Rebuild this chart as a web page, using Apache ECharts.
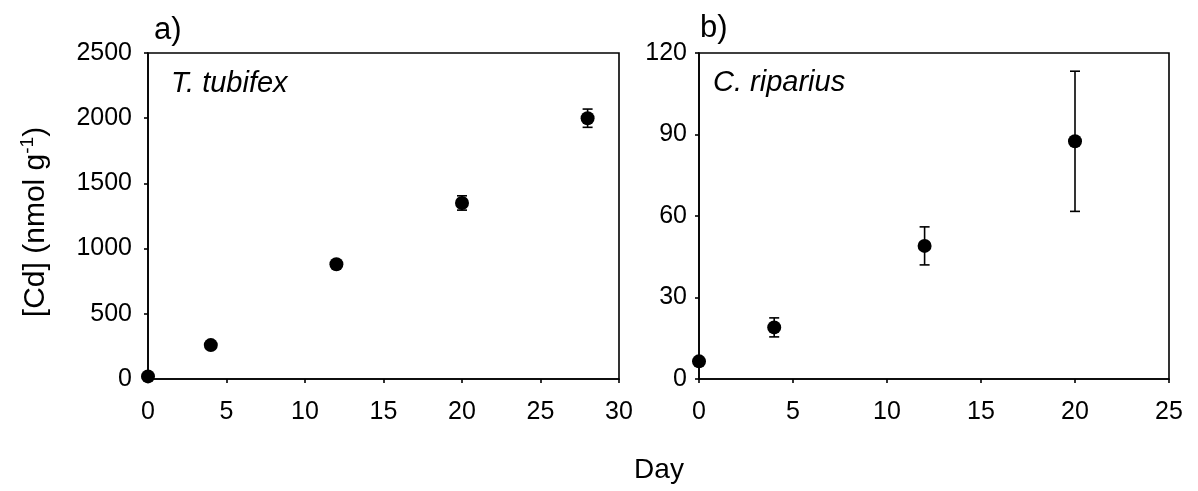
<!DOCTYPE html>
<html>
<head>
<meta charset="utf-8">
<script src="https://cdn.jsdelivr.net/npm/echarts@6/dist/echarts.min.js"></script>
<style>html,body{margin:0;padding:0;background:#fff}#c{width:1198px;height:491px}</style>
</head>
<body>
<div id="c"></div>
<script>
// Panel a) T. tubifex
const daysA = [0, 4, 12, 20, 28];
const cdA = [20, 260, 880, 1350, 2000];
const errA = [15, 15, 20, 55, 70];
// Panel b) C. riparius
const daysB = [0, 4, 12, 20];
const cdB = [6.5, 19, 49, 87.5];
const errB = [1, 3.5, 7, 25.8];
const xTicksA = [0, 5, 10, 15, 20, 25, 30];
const yTicksA = [0, 500, 1000, 1500, 2000, 2500];
const xTicksB = [0, 5, 10, 15, 20, 25];
const yTicksB = [0, 30, 60, 90, 120];

const FONT = 'Liberation Sans, Arial, sans-serif';
const chart = echarts.init(document.getElementById('c'));

function errSeries(xIdx, days, vals, errs) {
  return {
    type: 'custom', xAxisIndex: xIdx, yAxisIndex: xIdx, z: 2, silent: true,
    data: days.map((d, i) => [d, vals[i] - errs[i], vals[i] + errs[i]]),
    renderItem: function (params, api) {
      const lo = api.coord([api.value(0), api.value(1)]);
      const hi = api.coord([api.value(0), api.value(2)]);
      const w = 5;
      const st = { stroke: '#000', lineWidth: 1.6 };
      return { type: 'group', children: [
        { type: 'line', shape: { x1: lo[0], y1: lo[1], x2: hi[0], y2: hi[1] }, style: st },
        { type: 'line', shape: { x1: lo[0] - w, y1: lo[1], x2: lo[0] + w, y2: lo[1] }, style: st },
        { type: 'line', shape: { x1: hi[0] - w, y1: hi[1], x2: hi[0] + w, y2: hi[1] }, style: st }
      ]};
    }
  };
}

function xAxis(idx, ticks) {
  return {
    type: 'value', gridIndex: idx, min: ticks[0], max: ticks[ticks.length - 1], interval: ticks[1] - ticks[0],
    axisLine: { show: true, onZero: false, lineStyle: { color: '#000', width: 1.6 } },
    axisTick: { show: true, inside: false, length: 4, lineStyle: { color: '#000', width: 1.6 } },
    axisLabel: { color: '#000', fontSize: 25, fontFamily: FONT, margin: 21, formatter: v => String(v) },
    splitLine: { show: false }
  };
}
function yAxis(idx, ticks, margin) {
  return {
    type: 'value', gridIndex: idx, min: ticks[0], max: ticks[ticks.length - 1], interval: ticks[1] - ticks[0],
    axisLine: { show: true, onZero: false, lineStyle: { color: '#000', width: 1.6 } },
    axisTick: { show: true, inside: false, length: 4, lineStyle: { color: '#000', width: 1.6 } },
    axisLabel: { color: '#000', fontSize: 25, fontFamily: FONT, margin: margin, formatter: v => String(v) },
    splitLine: { show: false }
  };
}

chart.setOption({
  animation: false,
  backgroundColor: '#fff',
  grid: [
    { left: 148, top: 53, width: 471, height: 326, show: true, borderColor: '#000', borderWidth: 1.6 },
    { left: 699, top: 53, width: 470, height: 326, show: true, borderColor: '#000', borderWidth: 1.6 }
  ],
  xAxis: [xAxis(0, xTicksA), xAxis(1, xTicksB)],
  yAxis: [yAxis(0, yTicksA, 16), yAxis(1, yTicksB, 12)],
  graphic: [
    { type: 'text', x: 154, y: 30, style: { text: 'a)', fontSize: 31, fontFamily: FONT, fill: '#000', verticalAlign: 'middle' } },
    { type: 'text', x: 700, y: 28, style: { text: 'b)', fontSize: 31, fontFamily: FONT, fill: '#000', verticalAlign: 'middle' } },
    { type: 'text', x: 171, y: 84, style: { text: 'T. tubifex', fontSize: 29, fontStyle: 'italic', fontFamily: FONT, fill: '#000', verticalAlign: 'middle' } },
    { type: 'text', x: 713, y: 83, style: { text: 'C. riparius', fontSize: 29, fontStyle: 'italic', fontFamily: FONT, fill: '#000', verticalAlign: 'middle' } },
    { type: 'text', x: 659, y: 470, style: { text: 'Day', fontSize: 28, fontFamily: FONT, fill: '#000', align: 'center', verticalAlign: 'middle' } },
    { type: 'text', x: 36, y: 222, rotation: Math.PI / 2,
      style: { text: '{n|[Cd] (nmol g}{sup|-1}{n|)}', fill: '#000', align: 'center', verticalAlign: 'middle',
        rich: { n: { fontSize: 30, fontFamily: FONT, fill: '#000', lineHeight: 36 },
                sup: { fontSize: 19, fontFamily: FONT, fill: '#000', verticalAlign: 'top', lineHeight: 36 } } } }
  ],
  series: [
    errSeries(0, daysA, cdA, errA),
    { type: 'scatter', xAxisIndex: 0, yAxisIndex: 0, symbol: 'circle', symbolSize: 14, z: 3,
      itemStyle: { color: '#000', opacity: 1 }, data: daysA.map((d, i) => [d, cdA[i]]) },
    errSeries(1, daysB, cdB, errB),
    { type: 'scatter', xAxisIndex: 1, yAxisIndex: 1, symbol: 'circle', symbolSize: 14, z: 3,
      itemStyle: { color: '#000', opacity: 1 }, data: daysB.map((d, i) => [d, cdB[i]]) }
  ]
});
</script>
</body>
</html>
